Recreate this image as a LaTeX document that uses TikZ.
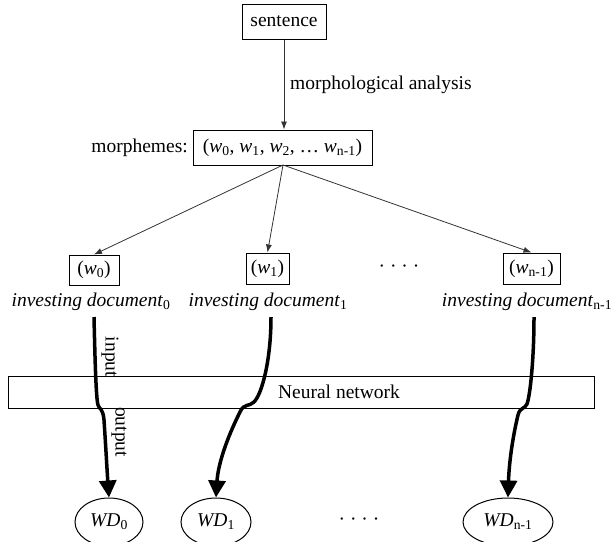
\documentclass[tikz,border=0pt]{standalone}
\usepackage{fontspec}
\setmainfont{Liberation Serif}
\usetikzlibrary{arrows.meta,shapes.geometric}
\tikzset{
  box/.style={draw=black,line width=1pt,inner sep=0pt,minimum height=31pt},
  plain/.style={inner sep=0pt},
  thin arrow/.style={draw=black!80,line width=0.8pt,-{Latex[length=8pt,width=6pt]}},
  thick curve/.style={draw=black,line width=3.5pt,-{Triangle[length=17pt,width=17pt]}},
  wdnode/.style={draw=black,ellipse,line width=1pt,inner sep=0pt,minimum height=48pt},
}
\newcommand{\wsub}[1]{\textit{w}\textsubscript{#1}}
\begin{document}
\begin{tikzpicture}[x=1pt,y=-1pt,font=\fontsize{19.5}{23}\selectfont]
\useasboundingbox (0,0) rectangle (612,541);
\clip (0,0) rectangle (612,541);
% nodes
\node[box,minimum width=84pt,minimum height=35pt] (sent) at (284,21.5) {sentence};
\node[box,minimum width=179pt,minimum height=35pt] (morph) at (282.5,147.5) {(\wsub{0}, \wsub{1}, \wsub{2}, … \wsub{n-1})};
\node[plain,anchor=east] (mlabel) at (188,148) {morphemes:};
\node[plain,anchor=west] (malabel) at (290,85) {morphological analysis};
\node[box,minimum width=50pt,minimum height=30pt] (w0) at (94,270) {(\wsub{0})};
\node[box,minimum width=43pt] (w1) at (267.5,268.5) {(\wsub{1})};
\node[box,minimum width=57pt] (wn) at (531.5,268.5) {(\wsub{n-1})};
\node[plain] (dtop) at (399,269) {· · · ·};
\node[plain] (doc0) at (91,302) {\textit{investing document}\textsubscript{0}};
\node[plain] (doc1) at (268,302) {\textit{investing document}\textsubscript{1}};
\node[plain] (docn) at (527,302) {\textit{investing document}\textsubscript{n-1}};
\node[draw=black,line width=1pt,minimum width=586pt,minimum height=32pt,inner sep=0pt] (nn) at (301,392) {};
\node[plain] (nnlabel) at (339,392) {Neural network};
\node[wdnode,minimum width=68pt] (wd0) at (109,522) {\textit{WD}\textsubscript{0}};
\node[wdnode,minimum width=70pt] (wd1) at (216,522) {\textit{WD}\textsubscript{1}};
\node[wdnode,minimum width=90pt] (wdn) at (508,522) {\textit{WD}\textsubscript{n-1}};
\node[plain] (dbot) at (359,522) {· · · ·};
\node[plain,rotate=-90] (inlabel) at (110,357) {input};
\node[plain,rotate=-90] (outlabel) at (119,432) {output};
% thin arrows
\draw[thin arrow] (sent.south -| 284,0) -- (morph.north -| 284,0);
\coordinate (mfork) at (283,165);
\draw[thin arrow] (mfork) -- (w0.north);
\draw[thin arrow] (mfork) -- (w1.north);
\draw[thin arrow] (mfork) -- (wn.north);
% thick curves
\coordinate (s0) at (94,317);
\coordinate (s1) at (271,317);
\coordinate (sn) at (534,317);
\draw[thick curve] (s0) .. controls (95,360) and (96,398) .. (98,405)
  .. controls (99,409) and (103,408) .. (104,420)
  .. controls (106,450) and (107,470) .. (wd0.north);
\draw[thick curve] (s1) .. controls (271,360) and (262,394) .. (254,402)
  .. controls (249,407) and (244,403) .. (240,412)
  .. controls (226,440) and (218,465) .. (wd1.north);
\draw[thick curve] (sn) .. controls (534,360) and (530,396) .. (527,404)
  .. controls (525,409) and (520,407) .. (518,415)
  .. controls (512,440) and (509,465) .. (wdn.north);
\end{tikzpicture}
\end{document}
